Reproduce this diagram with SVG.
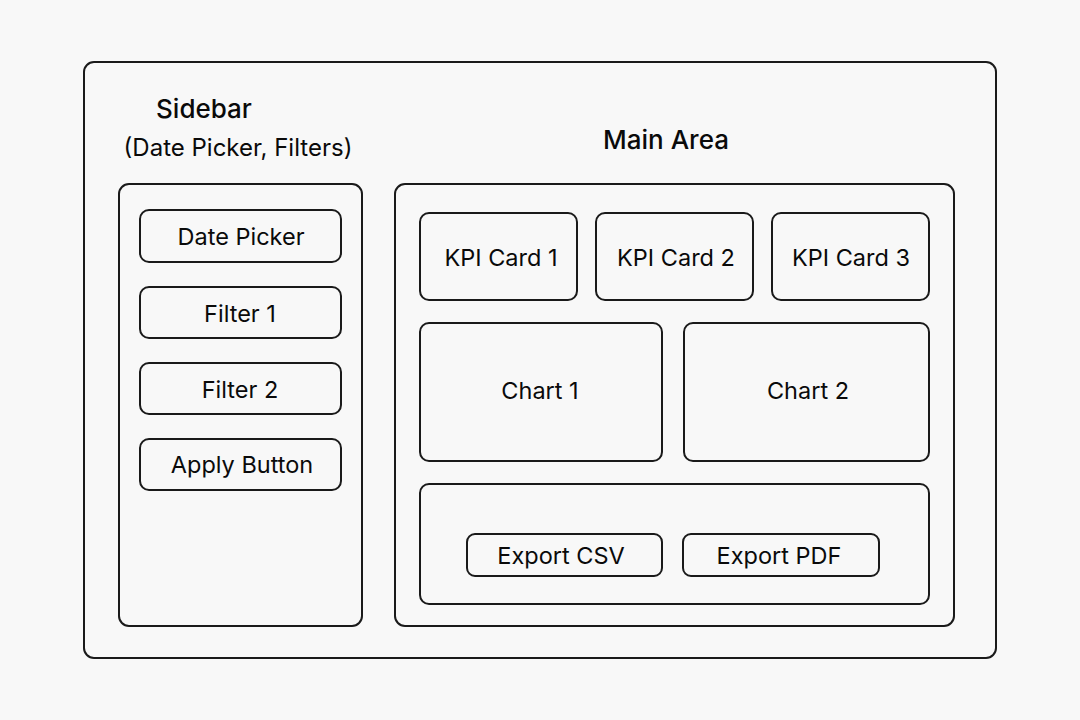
<svg xmlns="http://www.w3.org/2000/svg" width="1080" height="720" viewBox="0 0 1080 720">
<style>
.box{fill:none;stroke:#1a1a1a;stroke-width:2}
.t{font-family:Inter,"Liberation Sans",sans-serif;font-size:23.5px;fill:#0a0a0a;text-anchor:middle;dominant-baseline:central}
.s{font-size:24px}
.h{font-size:26px;font-weight:500}
</style>
<rect width="1080" height="720" fill="#f8f8f8"/>
<g id="frame"><rect class="box" x="84" y="62" width="912" height="596" rx="10"/></g>
<g id="sidebar">
<text class="t h" x="204" y="108">Sidebar</text>
<text class="t s" x="238" y="147">(Date Picker, Filters)</text>
<rect class="box" x="119" y="184" width="243" height="442" rx="10"/>
</g>
<g id="main">
<text class="t h" x="666" y="139">Main Area</text>
<rect class="box" x="395" y="184" width="559" height="442" rx="10"/>
</g>
<g id="datepicker"><rect class="box" x="140" y="210" width="201" height="52" rx="9"/><text class="t" x="241" y="236">Date Picker</text></g>
<g id="filter1"><rect class="box" x="140" y="287" width="201" height="51" rx="9"/><text class="t" x="240" y="313">Filter 1</text></g>
<g id="filter2"><rect class="box" x="140" y="363" width="201" height="51" rx="9"/><text class="t" x="240" y="389">Filter 2</text></g>
<g id="apply"><rect class="box" x="140" y="439" width="201" height="51" rx="9"/><text class="t" x="242" y="464">Apply Button</text></g>
<g id="kpi1"><rect class="box" x="420" y="213" width="157" height="87" rx="9"/><text class="t" x="501" y="257">KPI Card 1</text></g>
<g id="kpi2"><rect class="box" x="596" y="213" width="157" height="87" rx="9"/><text class="t" x="676" y="257">KPI Card 2</text></g>
<g id="kpi3"><rect class="box" x="772" y="213" width="157" height="87" rx="9"/><text class="t" x="851" y="257">KPI Card 3</text></g>
<g id="chart1"><rect class="box" x="420" y="323" width="242" height="138" rx="9"/><text class="t" x="540" y="390">Chart 1</text></g>
<g id="chart2"><rect class="box" x="684" y="323" width="245" height="138" rx="9"/><text class="t" x="808" y="390">Chart 2</text></g>
<g id="exportbar"><rect class="box" x="420" y="484" width="509" height="120" rx="9"/></g>
<g id="exportcsv"><rect class="box" x="467" y="534" width="195" height="42" rx="8"/><text class="t" x="561" y="555">Export CSV</text></g>
<g id="exportpdf"><rect class="box" x="683" y="534" width="196" height="42" rx="8"/><text class="t" x="779" y="555">Export PDF</text></g>
<g id="connectors"></g>
</svg>
